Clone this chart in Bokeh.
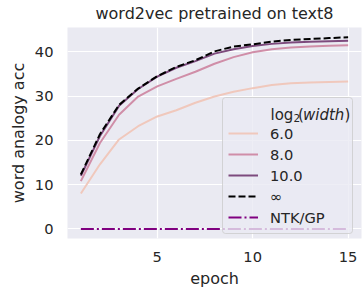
from bokeh.plotting import figure
from bokeh.models import Range1d, Label, FixedTicker, BoxAnnotation
from bokeh.embed import file_html
from bokeh.resources import INLINE

# ---- data ----
epochs = [1, 2, 3, 4, 5, 6, 7, 8, 9, 10, 11, 12, 13, 14, 15]
acc_w6 = [8.0, 14.6, 20.2, 23.2, 25.4, 26.8, 28.5, 29.9, 31.0, 31.8, 32.5, 32.9, 33.1, 33.2, 33.3]
acc_w8 = [10.8, 19.4, 25.8, 29.9, 32.2, 33.9, 35.5, 37.3, 38.8, 39.9, 40.6, 41.0, 41.2, 41.4, 41.5]
acc_w10 = [12.0, 21.0, 27.8, 31.6, 34.4, 36.4, 37.9, 39.6, 40.6, 41.3, 41.8, 42.1, 42.3, 42.4, 42.5]
acc_inf = [12.3, 21.4, 28.0, 31.7, 34.5, 36.6, 38.1, 40.1, 41.2, 41.7, 42.3, 42.7, 42.9, 43.1, 43.3]
acc_ntk = [0.0, 0.0, 0.0, 0.0, 0.0, 0.0, 0.0, 0.0, 0.0, 0.0, 0.0, 0.0, 0.0, 0.0, 0.0]
series_labels = ["6.0", "8.0", "10.0", "\u221e", "NTK/GP"]
x_ticks = [5, 10, 15]
y_ticks = [0, 10, 20, 30, 40]

TXT = "#262626"
FONT = "DejaVu Sans"

p = figure(width=362, height=292,
           x_range=Range1d(0.3, 15.7), y_range=Range1d(-2.17, 45.5),
           output_backend="svg", toolbar_location=None,
           min_border_left=67, min_border_right=1,
           min_border_top=22, min_border_bottom=54,
           background_fill_color="#EAEAF2", border_fill_color="white",
           outline_line_color=None)

p.title.text = "word2vec pretrained on text8"
p.title.align = "center"
p.title.vertical_align = "top"
p.title.text_font = FONT
p.title.text_font_size = "16px"
p.title.text_font_style = "normal"
p.title.text_color = TXT
p.title.standoff = 6

p.xaxis.ticker = FixedTicker(ticks=x_ticks)
p.yaxis.ticker = FixedTicker(ticks=y_ticks)
for g in (p.xgrid, p.ygrid):
    g.grid_line_color = "white"
    g.grid_line_width = 1.2
for ax in (p.xaxis, p.yaxis):
    ax.axis_line_color = None
    ax.major_tick_line_color = None
    ax.minor_tick_line_color = None
    ax.major_tick_out = 0
    ax.major_tick_in = 0
    ax.minor_tick_out = 0
    ax.minor_tick_in = 0
    ax.major_label_text_font_size = "14.67px"
    ax.major_label_text_color = TXT
    ax.major_label_text_font = FONT
    ax.axis_label_text_font_size = "16px"
    ax.axis_label_text_font_style = "normal"
    ax.axis_label_text_color = TXT
    ax.axis_label_text_font = FONT
p.xaxis.axis_label = "epoch"
p.yaxis.axis_label = "word analogy acc"
p.xaxis.major_label_standoff = 13
p.yaxis.major_label_standoff = 14
p.xaxis.axis_label_standoff = 4
p.yaxis.axis_label_standoff = 4

p.line(epochs, acc_w6, line_color="#f0c8bc", line_width=2, legend_label=series_labels[0])
p.line(epochs, acc_w8, line_color="#d08ea8", line_width=2, legend_label=series_labels[1])
p.line(epochs, acc_w10, line_color="#7d4a7d", line_width=2, legend_label=series_labels[2])
p.line(epochs, acc_inf, line_color="black", line_width=2, line_dash="7 3",
       legend_label=series_labels[3])
p.line(epochs, acc_ntk, line_color="#800080", line_width=2, line_dash="13 3 2 3",
       legend_label=series_labels[4])

# legend frame drawn as a translucent box (screen units, relative to the frame)
p.add_layout(BoxAnnotation(left=155, right=285, bottom=5, top=141,
                           left_units="screen", right_units="screen",
                           bottom_units="screen", top_units="screen",
                           fill_color="#EAEAF2", fill_alpha=0.8,
                           line_color="#cccccc", line_alpha=0.8, line_width=1,
                           border_radius=3, level="annotation"))

lg = p.legend[0]
lg.location = (155, 5)
lg.title = " "
lg.title_text_font_size = "15px"
lg.title_standoff = 2
lg.padding = 6
lg.margin = 0
lg.spacing = 1
lg.glyph_width = 30
lg.glyph_height = 20
lg.label_height = 20
lg.label_width = 76
lg.label_standoff = 12
lg.label_text_font = FONT
lg.label_text_font_size = "14.67px"
lg.label_text_color = TXT
lg.background_fill_alpha = 0
lg.border_line_alpha = 0


# legend title: log2(width) with italic "width" and subscript 2
def lab(x, y, t, size="15px", style="normal"):
    p.add_layout(Label(x=x, y=y, x_units="screen", y_units="screen", text=t,
                       text_align="left", text_baseline="alphabetic",
                       text_font=FONT, text_font_size=size,
                       text_font_style=style, text_color=TXT, level="overlay"))


lab(203, 124, "log")
lab(226, 121, "2", size="10.5px")
lab(230.5, 124, "(")
lab(235.5, 124, "width", style="italic")
lab(277, 124, ")")

open("out.html", "w").write(file_html(p, INLINE))
